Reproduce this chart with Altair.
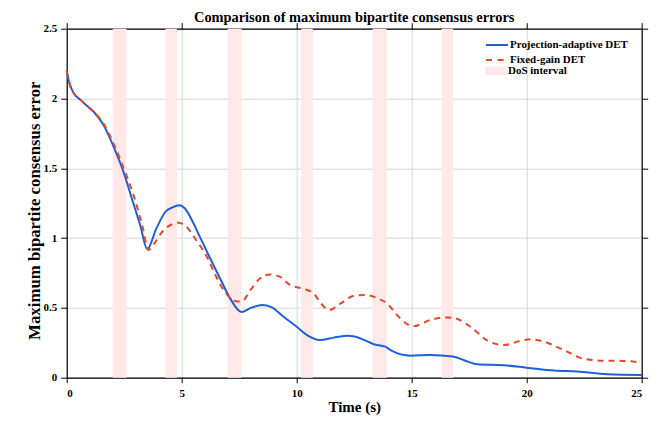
import altair as alt
import pandas as pd

# ---- data ----
t_blue = [0.0, 0.1, 0.3, 0.6, 1.0, 1.2, 1.6, 2.0, 2.5, 2.8, 3.2, 3.5, 3.9, 4.3, 4.6, 4.9,
          5.15, 5.5, 5.8, 6.25, 6.7, 7.1, 7.6, 8.0, 8.5, 8.9, 9.4, 10.0, 10.45, 11.0, 11.6,
          12.25, 12.75, 13.35, 13.85, 14.1, 14.95, 15.8, 16.8, 17.25, 17.85, 19.0, 20.0,
          21.2, 22.2, 23.5, 25.0]
v_blue = [2.20, 2.12, 2.04, 1.99, 1.93, 1.90, 1.81, 1.67, 1.46, 1.30, 1.09, 0.92, 1.07, 1.19,
          1.22, 1.235, 1.21, 1.11, 1.005, 0.85, 0.70, 0.57, 0.47, 0.50, 0.52, 0.505, 0.44, 0.365,
          0.305, 0.27, 0.287, 0.30, 0.283, 0.24, 0.222, 0.196, 0.158, 0.163, 0.151, 0.127, 0.096,
          0.089, 0.072, 0.051, 0.044, 0.025, 0.02]

t_red = [0.0, 0.1, 0.3, 0.6, 1.0, 1.2, 1.6, 2.0, 2.5, 2.9, 3.3, 3.55, 3.8, 4.2, 4.6, 4.85,
         5.15, 5.65, 6.1, 6.45, 6.9, 7.3, 7.6, 8.0, 8.4, 8.85, 9.3, 9.7, 10.2, 10.7, 11.0,
         11.4, 11.9, 12.45, 13.0, 13.5, 13.9, 14.5, 15.05, 15.8, 16.5, 16.9, 17.55, 18.3,
         19.0, 19.7, 20.15, 20.75, 21.6, 22.5, 23.35, 24.2, 25.0]
v_red = [2.20, 2.12, 2.04, 1.99, 1.93, 1.90, 1.82, 1.69, 1.49, 1.31, 1.08, 0.915, 0.96, 1.055,
         1.10, 1.11, 1.09, 0.98, 0.865, 0.74, 0.61, 0.55, 0.545, 0.63, 0.71, 0.74, 0.72, 0.665,
         0.64, 0.61, 0.545, 0.485, 0.53, 0.585, 0.592, 0.57, 0.535, 0.425, 0.368, 0.413, 0.432,
         0.425, 0.365, 0.265, 0.234, 0.263, 0.275, 0.258, 0.199, 0.134, 0.122, 0.12, 0.108]

dos_start = [2.0, 4.3, 7.0, 10.2, 13.3, 16.3]
dos_end = [2.6, 4.8, 7.6, 10.7, 13.9, 16.8]

x_ticks = [0, 5, 10, 15, 20, 25]
y_ticks = [0, 0.5, 1, 1.5, 2, 2.5]
series_names = ["Projection-adaptive DET", "Fixed-gain DET", "DoS interval"]
title_text = "Comparison of maximum bipartite consensus errors"
x_title = "Time (s)"
y_title = "Maximum bipartite consensus error"

# ---- tables ----
blue_df = pd.DataFrame({"t": t_blue, "v": v_blue, "s": series_names[0]})
red_df = pd.DataFrame({"t": t_red, "v": v_red, "s": series_names[1]})
dos_df = pd.DataFrame({"start": dos_start, "end": dos_end, "k": series_names[2]})

FONT = "Liberation Serif"
BLUE = "#1F60DA"
RED = "#E5492A"
PINK = "#FFE8E8"
W, H = 575, 349

xs = alt.Scale(domain=[0, 25], nice=False, zero=False)
ys = alt.Scale(domain=[0, 2.5], nice=False)


def leg(y, **kw):
    return alt.Legend(orient="none", legendX=418.3, legendY=y, title=None, padding=0,
                      labelFont=FONT, labelFontSize=11, labelFontWeight="bold",
                      labelColor="black", labelOffset=1, symbolSize=484, **kw)


rect = alt.Chart(dos_df).mark_rect(opacity=1).encode(
    x=alt.X("start:Q", scale=xs,
            axis=alt.Axis(orient="bottom", values=x_ticks, grid=True, title=x_title,
                          tickSize=5, labelPadding=5, titleFontSize=15,
                          titleX=287.5, titleY=34, titleBaseline="alphabetic",
                          titleAnchor="middle")),
    x2="end:Q",
    fill=alt.Fill("k:N", scale=alt.Scale(domain=[series_names[2]], range=[PINK]),
                  legend=leg(31.1, symbolType="M-1,-0.39H1V0.39H-1Z",
                             symbolStrokeWidth=0, symbolOpacity=1)),
)

blue = alt.Chart(blue_df).mark_line(strokeWidth=2, interpolate="monotone").encode(
    x=alt.X("t:Q", scale=xs, axis=None),
    y=alt.Y("v:Q", scale=ys,
            axis=alt.Axis(orient="left", values=y_ticks, grid=True, title=y_title,
                          format="~g", tickSize=6, labelPadding=4, titleFontSize=16.8,
                          titleX=-27.4, titleY=181.5, titleBaseline="alphabetic",
                          titleAngle=270, titleAlign="center")),
    color=alt.Color("s:N", scale=alt.Scale(domain=[series_names[0]], range=[BLUE]),
                    legend=leg(4.3, symbolType="stroke", symbolStrokeWidth=2)),
)

red = alt.Chart(red_df).mark_line(strokeWidth=2, strokeDash=[6, 5],
                                  interpolate="monotone").encode(
    x=alt.X("t:Q", scale=xs,
            axis=alt.Axis(orient="top", values=x_ticks, labels=False, grid=False,
                          title=None, tickSize=6, minExtent=0, labelPadding=0)),
    y=alt.Y("v:Q", scale=ys,
            axis=alt.Axis(orient="right", values=y_ticks, labels=False, grid=False,
                          title=None, tickSize=6, minExtent=0, labelPadding=0)),
    stroke=alt.Stroke("s:N", scale=alt.Scale(domain=[series_names[1]], range=[RED]),
                      legend=leg(19.3, symbolType="stroke", symbolStrokeWidth=2,
                                 symbolDash=[6, 5.5])),
)

chart = alt.layer(rect, blue, red).properties(
    width=W, height=H,
    title=alt.TitleParams(title_text, font=FONT, fontSize=14.4, fontWeight="bold",
                          color="black", anchor="middle", baseline="alphabetic",
                          offset=0, dy=14.3),
    autosize=alt.AutoSizeParams(type="none"),
    padding={"left": 58.7, "top": 20.7, "right": 17.3, "bottom": 37.5},
).configure(
    font=FONT,
).configure_view(
    stroke="transparent",
).configure_axis(
    domainColor="black", domainWidth=1.2, tickColor="black", tickWidth=1,
    labelFont=FONT, labelFontSize=11, labelFontWeight="bold", labelColor="black",
    titleFont=FONT, titleFontWeight="bold", titleColor="black",
    gridColor="#d6d6d6", gridWidth=1,
)

chart.save("out.html", embed_options={"renderer": "svg", "actions": False})
